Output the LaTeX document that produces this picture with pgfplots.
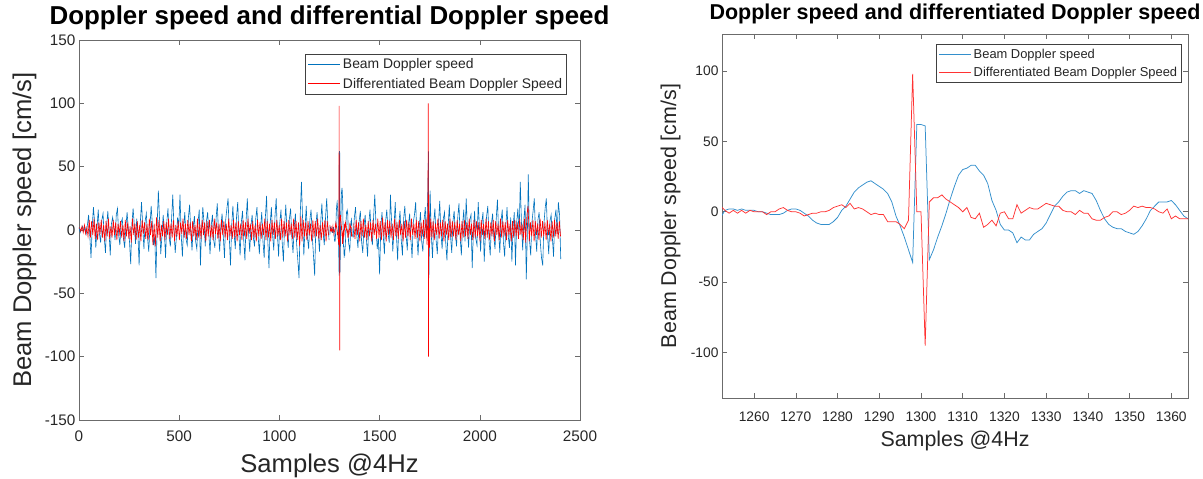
\documentclass[border=0pt]{standalone}
\usepackage{fontspec}
\setmainfont{Liberation Sans}
\usepackage{pgfplots}
\pgfplotsset{compat=1.18}
\usepackage{pgfplotstable}
\definecolor{mblue}{rgb}{0,0.447,0.741}
\definecolor{lblue}{rgb}{0.2,0.56,0.8}
\definecolor{lred}{rgb}{1,0.2,0.2}
\definecolor{axgray}{rgb}{0.42,0.42,0.42}
\definecolor{txtgray}{rgb}{0.15,0.15,0.15}

% zoomed window: sample, beam Doppler speed, differentiated speed
\pgfplotstableread{
x b r
1252 -4 4
1253 1 1
1254 2 -1
1255 2 1
1256 1 -1
1257 2 1
1258 1 -1
1259 1 1
1260 1 0
1261 0 0
1262 0 0
1263 -1 -2
1264 -2 0
1265 -2 0
1266 -2 2
1267 -1 3
1268 1 1
1269 2 0
1270 2 0
1271 1 -1
1272 -1 -3
1273 -3 -2
1274 -6 -1
1275 -8 -1
1276 -9 0
1277 -9 0
1278 -9 1
1279 -7 3
1280 -4 4
1281 1 5
1282 4 3
1283 9 6
1284 14 2
1285 17 3
1286 19 2
1287 21 0
1288 22 -2
1289 20 -1
1290 18 -2
1291 16 -2
1292 13 -7
1293 7 -7
1294 -3 -7
1295 -10 -9
1296 -18 -12
1297 -27 -6
1298 -36 98
1299 62 0
1300 62 0
1301 61 -95
1302 -34 7
1303 -27 10
1304 -18 10
1305 -10 12
1306 -1 9
1307 9 7
1308 18 5
1309 26 3
1310 30 0
1311 31 3
1312 33 -4
1313 33 -5
1314 29 -1
1315 26 -11
1316 20 -9
1317 8 -6
1318 1 -10
1319 -9 -1
1320 -13 0
1321 -13 -5
1322 -15 -5
1323 -22 5
1324 -18 -1
1325 -20 1
1326 -20 3
1327 -16 2
1328 -14 2
1329 -12 4
1330 -8 6
1331 -2 5
1332 4 4
1333 7 4
1334 11 1
1335 14 0
1336 15 0
1337 15 -2
1338 13 1
1339 15 -1
1340 14 -1
1341 13 -5
1342 8 -6
1343 1 -6
1344 -5 -4
1345 -9 -3
1346 -11 0
1347 -12 0
1348 -12 -2
1349 -14 -1
1350 -15 1
1351 -16 4
1352 -14 3
1353 -10 4
1354 -5 3
1355 1 3
1356 4 2
1357 7 0
1358 7 -1
1359 7 2
1360 8 -5
1361 5 -3
1362 1 -5
1363 -3 -5
1364 -5 -5
}\zoomdata

\pgfplotstableread[row sep=\\]{x y\\
0 2\\6 -2\\12 1\\18 3\\24 -1\\30 2\\36 -3\\42 4\\
48 12\\54 -5\\60 -22\\66 3\\72 18\\78 6\\84 -14\\90 2\\
96 16\\102 -3\\108 -10\\114 8\\120 13\\126 -6\\132 -18\\138 4\\
144 15\\150 -2\\156 -20\\162 5\\168 10\\174 2\\180 -8\\186 12\\
192 17\\198 -4\\204 -12\\210 6\\216 9\\222 -7\\228 -14\\234 3\\
240 14\\246 1\\252 -9\\258 -27\\264 5\\270 17\\276 4\\282 -11\\
288 9\\294 -3\\300 -28\\306 6\\312 22\\318 3\\324 -15\\330 7\\
336 13\\342 -6\\348 -17\\354 2\\360 19\\366 5\\372 -12\\378 -5\\
384 -38\\390 4\\396 31\\402 8\\408 -19\\414 -4\\420 12\\426 -2\\
432 -22\\438 6\\444 17\\450 -6\\456 -13\\462 9\\468 28\\474 1\\
480 -18\\486 -6\\492 10\\498 3\\504 28\\510 -4\\516 -21\\522 2\\
528 14\\534 -7\\540 -12\\546 10\\552 20\\558 -2\\564 -16\\570 3\\
576 11\\582 -9\\588 -15\\594 6\\600 16\\606 -28\\612 2\\618 18\\
624 5\\630 -13\\636 7\\642 14\\648 -3\\654 -19\\660 4\\666 12\\
672 -8\\678 -14\\684 9\\690 21\\696 -2\\702 -17\\708 3\\714 13\\
720 -5\\726 -22\\732 8\\738 17\\744 25\\750 -6\\756 -28\\762 4\\
768 19\\774 -3\\780 -15\\786 10\\792 22\\798 -4\\804 -20\\810 6\\
816 15\\822 -8\\828 -24\\834 8\\840 25\\846 -2\\852 -17\\858 3\\
864 12\\870 -6\\876 -13\\882 9\\888 18\\894 -5\\900 -19\\906 2\\
912 14\\918 -9\\924 -22\\930 10\\936 27\\942 -8\\948 -30\\954 5\\
960 18\\966 -4\\972 -16\\978 11\\984 25\\990 -3\\996 -21\\1002 6\\
1008 16\\1014 -10\\1020 -25\\1026 4\\1032 20\\1038 -2\\1044 -14\\1050 9\\
1056 17\\1062 -6\\1068 -18\\1074 3\\1080 13\\1086 -11\\1092 -24\\1098 -38\\
1104 12\\1110 38\\1116 7\\1122 -20\\1128 2\\1134 19\\1140 -6\\1146 -15\\
1152 8\\1158 16\\1164 -5\\1170 -20\\1176 -36\\1182 4\\1188 14\\1194 -3\\
1200 -17\\1206 6\\1212 21\\1218 -2\\1224 -12\\1230 9\\1236 25\\1242 3\\1248 -8\\
}\blueA

\pgfplotstableread[row sep=\\]{x y\\
1368 -6\\1374 10\\1380 18\\1386 -4\\1392 -14\\1398 7\\1404 15\\1410 -9\\
1416 -18\\1422 3\\1428 12\\1434 -7\\1440 -21\\1446 5\\1452 16\\1458 -3\\
1464 -12\\1470 10\\1476 28\\1482 4\\1488 -15\\1494 -6\\1500 -35\\1506 2\\
1512 14\\1518 -4\\1524 -19\\1530 7\\1536 16\\1542 -2\\1548 -10\\1554 28\\
1560 6\\1566 -17\\1572 3\\1578 22\\1584 -4\\1590 -24\\1596 5\\1602 15\\
1608 -8\\1614 -20\\1620 9\\1626 19\\1632 -3\\1638 -16\\1644 4\\1650 13\\
1656 -7\\1662 -22\\1668 6\\1674 12\\1680 22\\1686 -5\\1692 -20\\1698 3\\
1704 14\\1710 -9\\1716 -17\\1722 8\\1728 18\\1734 -6\\1740 25\\1744 62\\1746 -38\\1752 31\\
1758 -4\\1764 -22\\1770 6\\1776 17\\1782 -8\\1788 -19\\1794 5\\1800 23\\
1806 -2\\1812 -15\\1818 9\\1824 14\\1830 -10\\1836 -24\\1842 3\\1848 20\\
1854 -5\\1860 -18\\1866 7\\1872 15\\1878 -3\\1884 -13\\1890 10\\1896 21\\
1902 -6\\1908 -20\\1914 4\\1920 16\\1926 -9\\1932 25\\1938 2\\1944 -14\\
1950 8\\1956 12\\1962 -30\\1968 -2\\1974 15\\1980 -7\\1986 -12\\1992 22\\
1998 3\\2004 -17\\2010 6\\2016 14\\2022 -25\\2028 -4\\2034 11\\2040 19\\
2046 -8\\2052 -20\\2058 5\\2064 13\\2070 -6\\2076 -15\\2082 9\\2088 24\\
2094 -3\\2100 -18\\2106 7\\2112 16\\2118 -10\\2124 -21\\2130 4\\2136 18\\
2142 -5\\2148 -14\\2154 10\\2160 -25\\2166 2\\2172 14\\2178 -28\\2184 6\\
2190 17\\2196 -4\\2202 38\\2208 5\\2214 -16\\2220 9\\2226 20\\2232 -39\\
2238 3\\2242 44\\2248 -8\\2254 -20\\2260 6\\2266 15\\2272 25\\2278 -3\\
2284 -17\\2290 8\\2296 14\\2302 -10\\2308 -22\\2314 -28\\2320 5\\2326 17\\
2332 25\\2338 -4\\2344 -19\\2350 7\\2356 12\\2362 -6\\2368 -21\\2374 9\\
2380 16\\2386 -3\\2392 22\\2398 12\\2404 -23\\
}\blueC

\pgfplotstableread[row sep=\\]{x y\\
3 2\\9 -1\\15 3\\21 -2\\27 4\\33 -3\\39 2\\45 -5\\51 8\\57 -6\\63 7\\69 -4\\
75 9\\81 -7\\87 5\\93 -8\\99 6\\105 -3\\111 8\\117 -6\\123 4\\129 -9\\135 7\\141 -5\\
147 9\\153 -7\\159 3\\165 -6\\171 8\\177 -4\\183 6\\189 -8\\195 5\\201 -3\\207 7\\213 -6\\
219 4\\225 -9\\231 8\\237 -5\\243 6\\249 -7\\255 3\\261 -10\\267 9\\273 -4\\279 5\\285 -8\\
291 7\\297 -6\\303 4\\309 -9\\315 8\\321 -3\\327 6\\333 -7\\339 5\\345 -8\\351 9\\357 -4\\
363 7\\369 -12\\375 5\\381 -13\\387 10\\393 -6\\399 8\\405 -9\\411 4\\417 -5\\423 7\\429 -8\\
435 6\\441 -4\\447 9\\453 -7\\459 5\\465 -6\\471 8\\477 -9\\483 4\\489 -5\\495 7\\501 -8\\
507 6\\513 -3\\519 9\\525 -6\\531 5\\537 -7\\543 8\\549 -4\\555 6\\561 -9\\567 7\\573 -5\\
579 4\\585 -8\\591 9\\597 -6\\603 5\\609 -7\\615 8\\621 -4\\627 6\\633 -9\\639 7\\645 -5\\
651 8\\657 -6\\663 4\\669 -8\\675 9\\681 -3\\687 6\\693 -7\\699 5\\705 -9\\711 8\\717 -4\\
723 7\\729 -6\\735 5\\741 -8\\747 9\\753 -5\\759 4\\765 -7\\771 8\\777 -6\\783 6\\789 -9\\
795 7\\801 -4\\807 5\\813 -8\\819 8\\825 -5\\831 6\\837 -7\\843 9\\849 -3\\855 5\\861 -8\\
867 7\\873 -6\\879 4\\885 -9\\891 8\\897 -5\\903 6\\909 -7\\915 5\\921 -4\\927 9\\933 -8\\
939 7\\945 -6\\951 5\\957 -9\\963 8\\969 -4\\975 6\\981 -7\\987 8\\993 -5\\999 4\\1005 -8\\
1011 9\\1017 -6\\1023 7\\1029 -5\\1035 6\\1041 -9\\1047 8\\1053 -4\\1059 5\\1065 -7\\1071 9\\1077 -6\\
1083 7\\1089 -8\\1095 6\\1101 -13\\1107 11\\1113 -9\\1119 8\\1125 -5\\1131 6\\1137 -8\\1143 7\\1149 -4\\
1155 5\\1161 -9\\1167 8\\1173 -6\\1179 7\\1185 -5\\1191 9\\1197 -7\\1203 4\\1209 -8\\1215 6\\1221 -5\\
1227 8\\1233 -9\\1239 7\\1245 -4\\
}\redA

\pgfplotstableread[row sep=\\]{x y\\
1371 5\\1377 -7\\1383 8\\1389 -4\\1395 6\\1401 -9\\1407 7\\1413 -5\\1419 9\\1425 -6\\1431 4\\1437 -8\\
1443 7\\1449 -5\\1455 6\\1461 -9\\1467 8\\1473 -4\\1479 5\\1485 -7\\1491 9\\1497 -6\\1503 7\\1509 -8\\
1515 10\\1521 -5\\1527 6\\1533 -9\\1539 8\\1545 -4\\1551 7\\1557 -6\\1563 5\\1569 -8\\1575 9\\1581 -5\\
1587 6\\1593 -7\\1599 8\\1605 -4\\1611 5\\1617 -9\\1623 7\\1629 -6\\1635 8\\1641 -5\\1647 6\\1653 -8\\
1659 9\\1665 -4\\1671 5\\1677 -7\\1683 8\\1689 -6\\1695 7\\1701 -9\\1707 6\\1713 -5\\1719 8\\1725 -7\\
1731 9\\1737 -12\\1741 15\\1743 100\\1744 -100\\1745 28\\1749 -14\\1755 9\\1761 -6\\1767 7\\1773 -8\\1779 5\\
1785 -4\\1791 9\\1797 -7\\1803 6\\1809 -5\\1815 8\\1821 -9\\1827 7\\1833 -4\\1839 5\\1845 -8\\1851 9\\
1857 -6\\1863 7\\1869 -5\\1875 6\\1881 -8\\1887 8\\1893 -4\\1899 5\\1905 -9\\1911 7\\1917 -6\\1923 8\\
1929 -5\\1935 6\\1941 -7\\1947 9\\1953 -4\\1959 5\\1965 -8\\1971 8\\1977 -6\\1983 7\\1989 -5\\1995 6\\
2001 -9\\2007 8\\2013 -4\\2019 5\\2025 -7\\2031 9\\2037 -6\\2043 7\\2049 -8\\2055 6\\2061 -5\\2067 8\\
2073 -9\\2079 7\\2085 -4\\2091 5\\2097 -8\\2103 9\\2109 -6\\2115 7\\2121 -5\\2127 6\\2133 -8\\2139 8\\
2145 -4\\2151 5\\2157 -9\\2163 7\\2169 -6\\2175 8\\2181 -5\\2187 6\\2193 -7\\2199 9\\2205 -4\\2211 5\\
2217 -8\\2223 9\\2229 -10\\2235 12\\2241 19\\2247 -9\\2253 6\\2259 -5\\2265 8\\2271 -9\\2277 7\\2283 -4\\
2289 5\\2295 -8\\2301 9\\2307 -6\\2313 7\\2319 -5\\2325 6\\2331 -8\\2337 8\\2343 -4\\2349 5\\2355 -9\\
2361 7\\2367 -6\\2373 8\\2379 -5\\2385 6\\2391 -7\\2397 7\\2403 -5\\
}\redC

\pgfplotsset{
  matstyle/.style={
    scale only axis, anchor=south west,
    axis line style={axgray, line width=0.8pt},
    tick style={axgray, line width=0.6pt},
    major tick length=5pt, tick align=inside,
    /pgf/number format/assume math mode=true,
    /pgf/number format/1000 sep={},
    ticklabel style={text=txtgray},
    label style={text=txtgray},
    legend cell align=left,
    legend image code/.code={\draw[#1] (0pt,0pt) -- (32pt,0pt);},
  }
}

\begin{document}
\begin{tikzpicture}
\useasboundingbox (0,0) rectangle (1203pt,479pt);

\begin{axis}[matstyle,
  at={(79pt,59pt)}, width=501pt, height=380pt,
  xmin=0, xmax=2500, ymin=-150, ymax=150,
  xtick={0,500,...,2500}, ytick={-150,-100,...,150},
  ticklabel style={font=\fontsize{15.3}{18}\selectfont},
  xticklabel style={yshift=-7pt},
  title={Doppler speed and differential Doppler speed},
  title style={font=\fontsize{25.9}{30}\selectfont\bfseries, at={(axis description cs:0.5,1.024)}, anchor=base},
  xlabel={Samples @4Hz},
  xlabel style={font=\fontsize{25.6}{30}\selectfont, at={(axis description cs:0.5,-0.1386)}, anchor=base},
  ylabel={Beam Doppler speed [cm/s]},
  ylabel style={font=\fontsize{25.6}{30}\selectfont, at={(axis description cs:-0.0958,0.5)}, anchor=base},
  legend style={at={(rel axis cs:0.974,0.963)}, anchor=north east,
    font=\fontsize{13.9}{16}\selectfont, text=txtgray, draw=black!75, line width=0.6pt,
    inner sep=2.5pt, row sep=3.5pt},
]
\addlegendimage{mblue, line width=0.9pt}
\addlegendentry{Beam Doppler speed}
\addlegendimage{red, line width=1pt}
\addlegendentry{Differentiated Beam Doppler Speed}
\addplot[mblue, line width=0.6pt, forget plot] table[x=x, y=y] {\blueA};
\addplot[mblue, line width=0.6pt, forget plot] table[x=x, y=b] {\zoomdata};
\addplot[mblue, line width=0.6pt, forget plot] table[x=x, y=y] {\blueC};
\addplot[red, line width=0.6pt, forget plot] table[x=x, y=y] {\redA};
\addplot[red, line width=0.6pt, forget plot] table[x=x, y=r] {\zoomdata};
\addplot[red, line width=0.6pt, forget plot] table[x=x, y=y] {\redC};
\end{axis}

\begin{axis}[matstyle,
  at={(722pt,81pt)}, width=466pt, height=364pt,
  xmin=1252.3, xmax=1364, ymin=-132.3, ymax=126.3,
  xtick={1260,1270,...,1360}, ytick={-100,-50,...,100},
  ticklabel style={font=\fontsize{13.8}{16}\selectfont},
  xticklabel style={yshift=-10pt},
  title={Doppler speed and differentiated Doppler speed},
  title style={font=\fontsize{21.5}{25}\selectfont\bfseries, at={(axis description cs:0.5,1.0247)}, anchor=base},
  xlabel={Samples @4Hz},
  xlabel style={font=\fontsize{21.4}{25}\selectfont, at={(axis description cs:0.5,-0.1337)}, anchor=base},
  ylabel={Beam Doppler speed [cm/s]},
  ylabel style={font=\fontsize{21.4}{25}\selectfont, at={(axis description cs:-0.0987,0.5)}, anchor=base},
  legend style={at={(rel axis cs:0.987,0.9725)}, anchor=north east,
    font=\fontsize{12.9}{15}\selectfont, text=txtgray, draw=black!75, line width=0.6pt,
    inner sep=2.5pt, row sep=3.5pt},
]
\addlegendimage{lblue, line width=0.9pt}
\addlegendentry{Beam Doppler speed}
\addlegendimage{lred, line width=1pt}
\addlegendentry{Differentiated Beam Doppler Speed}
\addplot[lblue, line width=0.75pt, forget plot] table[x=x, y=b] {\zoomdata};
\addplot[lred, line width=0.75pt, forget plot] table[x=x, y=r] {\zoomdata};
\end{axis}
\end{tikzpicture}
\end{document}
